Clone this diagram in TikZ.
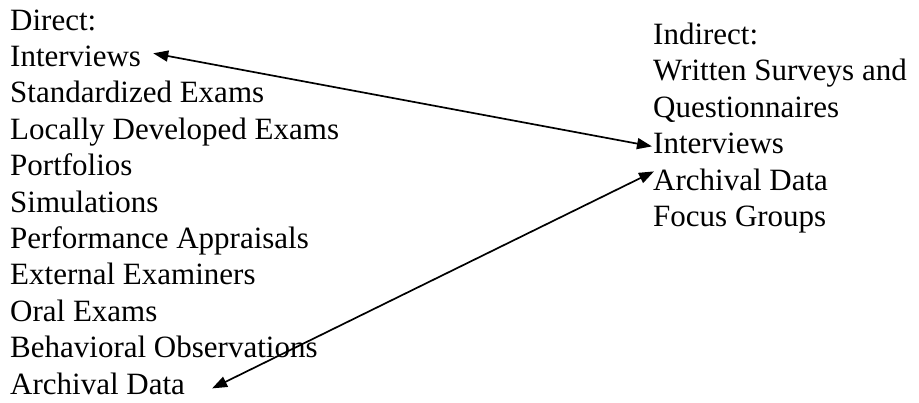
\documentclass[tikz,border=0pt]{standalone}
\usepackage{fontspec}
\setmainfont{Liberation Serif}
\usetikzlibrary{arrows.meta}
\begin{document}
\begin{tikzpicture}[x=1pt,y=-1pt,
  item/.style={anchor=base west,inner sep=0pt,font=\fontsize{31}{36.5}\selectfont},
  link/.style={line width=1.7pt,{Triangle[length=15pt,width=11pt]}-{Triangle[length=15pt,width=11pt]}}]
\useasboundingbox[fill=white] (0,0) rectangle (919,402);
% left column
\node[item] (ld)  at (10,30)    {Direct:};
\node[item] (l1)  at (10,66.4)  {Interviews};
\node[item] (l2)  at (10,102.8) {Standardized Exams};
\node[item] (l3)  at (10,139.2) {Locally Developed Exams};
\node[item] (l4)  at (10,175.6) {Portfolios};
\node[item] (l5)  at (10,212)   {Simulations};
\node[item] (l6)  at (10,248.4) {Performance Appraisals};
\node[item] (l7)  at (10,284.8) {External Examiners};
\node[item] (l8)  at (10,321.2) {Oral Exams};
\node[item] (l9)  at (10,357.6) {Behavioral Observations};
\node[item] (l10) at (10,394)   {Archival Data};
% right column
\node[item] (rd) at (653,44)    {Indirect:};
\node[item] (r1) at (653,80.5)  {Written Surveys and};
\node[item] (r2) at (653,117)   {Questionnaires};
\node[item] (r3) at (653,153.5) {Interviews};
\node[item] (r4) at (653,190)   {Archival Data};
\node[item] (r5) at (653,226.5) {Focus Groups};
% connectors
\draw[link] ([xshift=12pt,yshift=3pt]l1.east) -- ([xshift=-1pt,yshift=-3pt]r3.west);
\draw[link] ([xshift=27pt,yshift=-5pt]l10.east) -- ([xshift=1pt,yshift=8pt]r4.west);
\end{tikzpicture}
\end{document}
